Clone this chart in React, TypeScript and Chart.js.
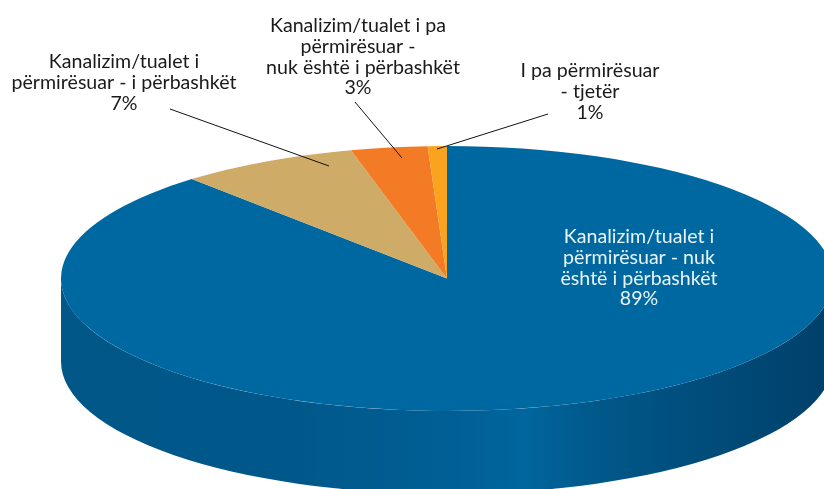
import React, { useEffect, useRef } from "react";
import { Chart, registerables } from "chart.js";

Chart.register(...registerables);

// Slice shares; each rounds to its printed percentage.
const categories = [
  "Kanalizim/tualet i përmirësuar - nuk është i përbashkët",
  "Kanalizim/tualet i përmirësuar - i përbashkët",
  "Kanalizim/tualet i pa përmirësuar - nuk është i përbashkët",
  "I pa përmirësuar - tjetër",
];
const shares = [88.5, 7.5, 3.2, 0.8];
const printedPercent = ["89%", "7%", "3%", "1%"];
const labelLines = [
  ["Kanalizim/tualet i", "përmirësuar - nuk", "është i përbashkët"],
  ["Kanalizim/tualet i", "përmirësuar - i përbashkët"],
  ["Kanalizim/tualet i pa", "përmirësuar -", "  nuk është i përbashkët"],
  ["I pa përmirësuar", "- tjetër"],
];
const sliceColors = ["#0068A0", "#CEAB66", "#F47B25", "#FBA31F"];

// Layout
const W = 824;
const H = 489;
const CX = 447;
const CY = 278.5;
const RX = 386;
const RY = 132.5;
const DEPTH = 83;
const LINE_H = 20.6;
const labelPos = [
  { x: 639, y: 237, color: "#EAF3F8" },
  { x: 124, y: 62, color: "#1a1a1a" },
  { x: 358, y: 26, color: "#1a1a1a" },
  { x: 590, y: 71, color: "#1a1a1a" },
];
const leaders = [
  [170, 109, 329, 166],
  [355, 102, 402, 158],
  [548, 114, 437, 149],
];
const wallStops: [number, string][] = [
  [0, "#005788"],
  [0.3, "#00588A"],
  [0.5, "#005F95"],
  [0.6, "#00669E"],
  [0.68, "#005A8C"],
  [0.8, "#004F7E"],
  [1, "#00406A"],
];

const pseudo3d = {
  id: "pseudo3d",
  beforeDatasetsDraw(chart: any) {
    const { ctx } = chart;
    const arcs = chart.getDatasetMeta(0).data;
    const els = arcs.map((a: any) => a.getProps(["x", "y", "startAngle", "endAngle", "outerRadius"], true));
    const grad = ctx.createLinearGradient(CX - RX, 0, CX + RX, 0);
    wallStops.forEach(([o, c]) => grad.addColorStop(o, c));
    const k = RY / RX;

    // Side wall: the part of each slice that faces the viewer.
    els.forEach((el: any) => {
      const a0 = Math.max(el.startAngle, 0);
      const a1 = Math.min(el.endAngle, Math.PI);
      if (a1 <= a0) return;
      ctx.save();
      ctx.fillStyle = grad;
      ctx.beginPath();
      ctx.ellipse(CX, CY, RX, RY, 0, a0, a1, false);
      ctx.ellipse(CX, CY + DEPTH, RX, RY, 0, a1, a0, true);
      ctx.closePath();
      ctx.fill();
      ctx.restore();
    });

    // Squash the library's round pie onto the elliptical top face.
    const el = els[0];
    ctx.save();
    ctx.translate(CX, CY);
    ctx.scale(1, k);
    ctx.translate(-el.x, -el.y);
  },
  afterDatasetsDraw(chart: any) {
    chart.ctx.restore();
  },
  afterDraw(chart: any) {
    const { ctx } = chart;
    ctx.save();
    ctx.strokeStyle = "#111111";
    ctx.lineWidth = 1;
    leaders.forEach(([x0, y0, x1, y1]) => {
      ctx.beginPath();
      ctx.moveTo(x0, y0);
      ctx.lineTo(x1, y1);
      ctx.stroke();
    });
    ctx.font = '19.6px Lato, "Noto Sans", sans-serif';
    ctx.textAlign = "center";
    ctx.textBaseline = "middle";
    categories.forEach((_, i) => {
      const lines = [...labelLines[i], printedPercent[i]];
      const p = labelPos[i];
      ctx.fillStyle = p.color;
      lines.forEach((t, j) => ctx.fillText(t, p.x, p.y + j * LINE_H));
    });
    ctx.restore();
  },
};

export default function App() {
  const ref = useRef<HTMLCanvasElement>(null);
  useEffect(() => {
    document.body.style.margin = "0";
    const chart = new Chart(ref.current!, {
      type: "pie",
      data: {
        labels: categories,
        datasets: [
          {
            data: shares,
            backgroundColor: sliceColors,
            borderWidth: 0,
            clip: false,
          } as any,
        ],
      },
      options: {
        animation: false,
        responsive: false,
        radius: RX,
        layout: { padding: { left: 2 * CX - W } },
        plugins: { legend: { display: false }, tooltip: { enabled: false } },
      } as any,
      plugins: [pseudo3d],
    });
    return () => chart.destroy();
  }, []);
  return (
    <div style={{ width: W, height: H, overflow: "hidden", background: "#fff" }}>
      <canvas ref={ref} width={W} height={H} style={{ display: "block" }} />
    </div>
  );
}
